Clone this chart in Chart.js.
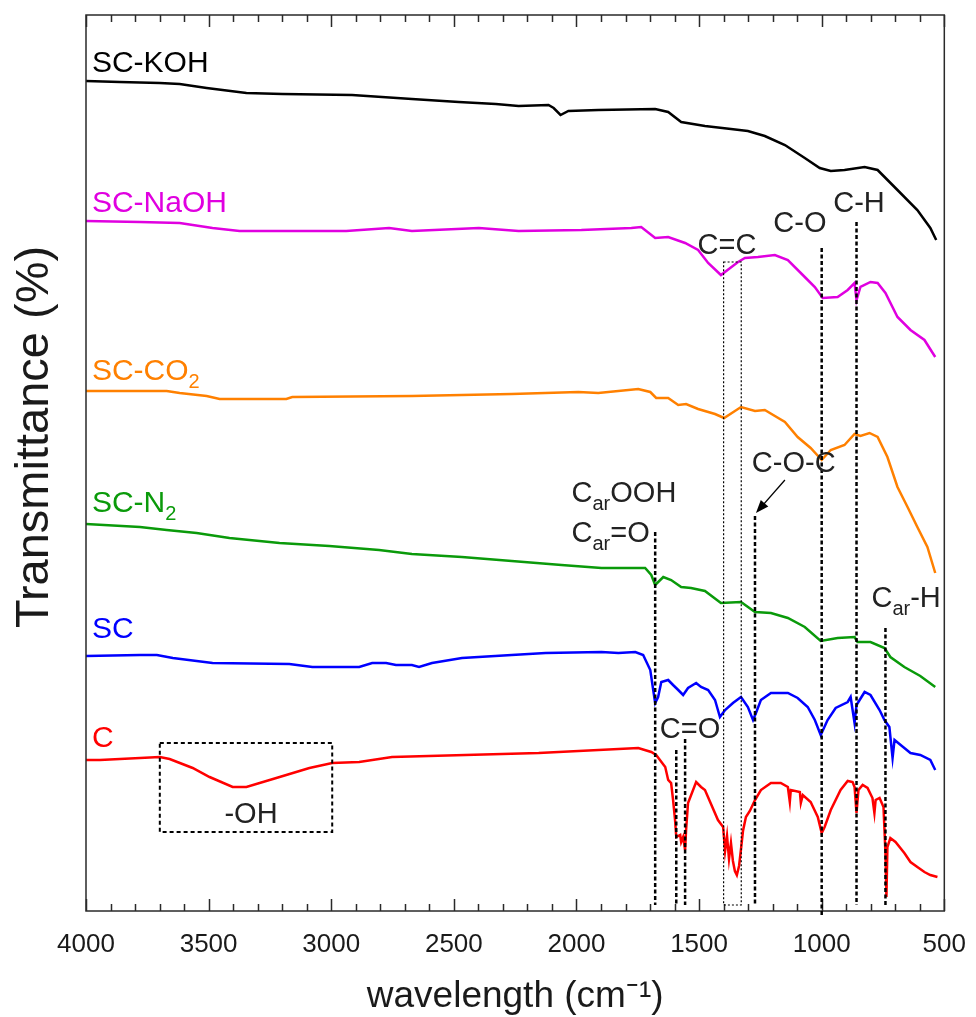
<!DOCTYPE html>
<html><head><meta charset="utf-8">
<script src="https://cdn.jsdelivr.net/npm/chart.js@4/dist/chart.umd.min.js"></script>
<style>html,body{margin:0;padding:0;background:#fff}#wrap{width:976px;height:1017px}</style>
</head><body><div id="wrap"><canvas id="c" width="976" height="1017"></canvas></div>
<script>
// ---- data (wavenumber in cm-1, transmittance in arbitrary offset units) ----
const kohWn = [4000,3862,3699,3618,3508,3346,3199,2915,2671,2480,2329,2236,2114,2093,2065,2033,1911,1679,1626,1573,1476,1370,1301,1232,1150,1069,1008,963,907,825,772,691,610,557,533];
const kohT  = [830,829,828,827,823,818,817,816,812,809,807,805,806,803,796,800,801,802,799,789,785,782,780,775,766,753,743,740,741,744,741,721,701,683,671];

const naohWn = [4000,3780,3618,3484,3374,2939,2764,2671,2398,2236,1980,1776,1736,1679,1626,1557,1504,1463,1411,1341,1313,1260,1191,1138,1069,1028,996,935,894,866,858,842,801,772,740,691,638,581,537];
const naohT  = [690,689,688,683,680,680,683,680,683,680,681,683,684,673,674,668,661,648,636,649,653,654,656,651,634,624,613,614,621,628,611,624,629,628,618,594,581,571,554];

const co2Wn = [4000,3671,3618,3508,3455,3183,3159,2671,2264,1992,1911,1748,1699,1675,1626,1585,1553,1504,1435,1398,1329,1272,1232,1150,1098,1045,1000,963,907,866,842,805,772,732,691,650,610,569,537];
const co2T  = [520,520,518,515,512,512,514,515,517,519,518,522,519,513,513,506,507,502,497,493,504,500,501,489,474,463,451,461,466,477,475,478,474,454,424,404,384,364,338];

const n2Wn = [4000,3780,3671,3549,3415,3211,3008,2805,2671,2467,2264,2061,1898,1720,1695,1679,1646,1614,1573,1533,1476,1411,1329,1272,1207,1138,1069,1004,935,866,854,801,744,720,663,598,537];
const n2T  = [387,384,381,378,373,368,365,361,357,354,350,346,343,343,336,326,334,331,324,323,320,308,309,299,298,293,284,270,273,274,269,269,263,254,244,235,224];

const scWn = [4000,3780,3711,3646,3484,3171,3077,2886,2833,2776,2736,2671,2642,2589,2467,2264,2126,1898,1829,1760,1728,1699,1687,1679,1667,1654,1626,1606,1585,1565,1545,1512,1492,1463,1435,1415,1394,1362,1329,1301,1280,1268,1248,1207,1138,1098,1057,1028,1004,976,943,894,882,866,858,825,801,764,744,724,711,703,663,638,598,557,537];
const scT  = [255,256,256,253,248,247,244,244,248,248,246,246,244,248,253,256,258,259,258,259,256,241,221,208,214,229,231,226,221,216,223,228,224,221,211,194,201,208,214,204,191,198,211,218,218,213,204,191,176,191,203,209,214,188,206,219,216,201,191,184,153,171,163,158,156,151,141];

const cWn = [4000,3943,3699,3659,3565,3496,3402,3346,3224,3089,2996,2886,2752,2154,1748,1695,1675,1638,1626,1614,1606,1598,1593,1577,1573,1565,1557,1553,1545,1512,1492,1476,1423,1402,1394,1386,1378,1370,1362,1354,1346,1337,1329,1321,1309,1293,1272,1248,1207,1167,1138,1130,1126,1089,1085,1077,1045,1016,1000,988,963,923,894,874,866,858,850,833,813,793,785,780,764,748,740,736,732,720,699,663,638,610,581,557,528];
const cT  = [151,151,154,152,143,134,124,124,133,143,148,149,154,158,163,159,156,144,131,128,111,91,74,76,69,74,61,81,108,129,124,121,91,84,60,75,52,68,50,40,36,45,62,80,94,100,111,121,128,128,124,109,121,119,108,116,109,94,78,84,101,121,130,129,124,98,121,126,123,113,98,111,113,104,58,14,64,73,69,58,49,44,39,36,34];

const seriesNames  = ['SC-KOH','SC-NaOH','SC-CO_{2}','SC-N_{2}','SC','C'];
const seriesColors = ['#000000','#E000E0','#FF8000','#0A9A0A','#0000FF','#FF0000'];
// label anchors in data coordinates [wavenumber, transmittance]
const seriesLabelAt = [[3976,839],[3976,699],[3976,531],[3976,399],[3976,273],[3976,164]];

// annotations in data coordinates
const peakLines = [[1679,379],[1593,161],[1557,172],[1272,395],[1000,663],[858,689],[740,283]]; // [wavenumber, top]
const ccBox  = [1400,1328,649,6];   // x1,x2,yTop,yBottom (dotted)
const ohBox  = [3699,2996,168,79];  // dashed box
const cocArrow = [1150,431,1268,398]; // from -> to
const annoLabels = [
  ['C=C',1386,657,'center'],['C-O',1089,679,'center'],['C-H',848,699,'center'],
  ['C-O-C',1114,439,'center'],['C_{ar}OOH',2020,409,'left'],['C_{ar}=O',2020,369,'left'],
  ['C=O',1537,173,'center'],['C_{ar}-H',797,304,'left'],['-OH',3327,88,'center']
];

const FONT = '"Liberation Sans", Arial, Helvetica, sans-serif';
const wnSets = [kohWn,naohWn,co2Wn,n2Wn,scWn,cWn];
const tSets  = [kohT,naohT,co2T,n2T,scT,cT];

function drawRich(ctx, str, px, py, size, color, align){
  const parts=[]; const re=/_\{([^}]*)\}/g; let last=0,m;
  while((m=re.exec(str))){ if(m.index>last) parts.push({t:str.slice(last,m.index),s:false}); parts.push({t:m[1],s:true}); last=re.lastIndex; }
  if(last<str.length) parts.push({t:str.slice(last),s:false});
  const fMain=size+'px '+FONT, fSub=Math.round(size*0.68)+'px '+FONT;
  let w=0; parts.forEach(p=>{ctx.font=p.s?fSub:fMain; p.w=ctx.measureText(p.t).width; w+=p.w;});
  let cx = align==='center'? px-w/2 : (align==='right'? px-w : px);
  ctx.fillStyle=color; ctx.textBaseline='alphabetic'; ctx.textAlign='left';
  parts.forEach(p=>{ctx.font=p.s?fSub:fMain; ctx.fillText(p.t, cx, py+(p.s?size*0.28:0)); cx+=p.w;});
}

const overlay = {
  id:'overlay',
  afterDatasetsDraw(chart){
    const {ctx, chartArea:a, scales:{x,y}} = chart;
    const X=v=>x.getPixelForValue(v), Y=v=>y.getPixelForValue(v);
    ctx.save();
    // frame
    ctx.strokeStyle='#2a2a2a'; ctx.lineWidth=1.5; ctx.setLineDash([]);
    ctx.strokeRect(a.left, a.top, a.right-a.left, a.bottom-a.top);
    // inward ticks, top and bottom
    for(let v=x.min; v<=x.max; v+=100){
      const major = v%500===0, len = major?12:7, px=Math.round(X(v))+0.5;
      ctx.beginPath(); ctx.moveTo(px,a.bottom); ctx.lineTo(px,a.bottom-len);
      ctx.moveTo(px,a.top); ctx.lineTo(px,a.top+len); ctx.stroke();
    }
    // heavy dashed peak lines
    ctx.strokeStyle='#000'; ctx.lineWidth=2.5; ctx.setLineDash([4,2.5]);
    peakLines.forEach(([w,t])=>{ctx.beginPath(); ctx.moveTo(X(w),Y(t)); ctx.lineTo(X(w),Y(w===1000?-6:6)); ctx.stroke();});
    // dotted C=C box
    ctx.lineWidth=1.2; ctx.setLineDash([2,2]);
    ctx.strokeRect(X(ccBox[0]),Y(ccBox[2]),X(ccBox[1])-X(ccBox[0]),Y(ccBox[3])-Y(ccBox[2]));
    // -OH box
    ctx.lineWidth=2; ctx.setLineDash([4,3]);
    ctx.strokeRect(X(ohBox[0]),Y(ohBox[2]),X(ohBox[1])-X(ohBox[0]),Y(ohBox[3])-Y(ohBox[2]));
    // arrow
    ctx.setLineDash([]); ctx.lineWidth=1.2;
    const x1=X(cocArrow[0]),y1=Y(cocArrow[1]),x2=X(cocArrow[2]),y2=Y(cocArrow[3]);
    const ang=Math.atan2(y2-y1,x2-x1);
    ctx.beginPath(); ctx.moveTo(x1,y1); ctx.lineTo(x2-8*Math.cos(ang),y2-8*Math.sin(ang)); ctx.stroke();
    ctx.beginPath(); ctx.moveTo(x2,y2);
    ctx.lineTo(x2-13*Math.cos(ang)+5*Math.sin(ang), y2-13*Math.sin(ang)-5*Math.cos(ang));
    ctx.lineTo(x2-13*Math.cos(ang)-5*Math.sin(ang), y2-13*Math.sin(ang)+5*Math.cos(ang));
    ctx.closePath(); ctx.fillStyle='#000'; ctx.fill();
    // annotation labels
    annoLabels.forEach(([t,w,v,al])=>drawRich(ctx,t,X(w),Y(v),29,'#222',al));
    // series labels
    seriesNames.forEach((n,i)=>drawRich(ctx,n,X(seriesLabelAt[i][0]),Y(seriesLabelAt[i][1]),30,seriesColors[i],'left'));
    // y title
    ctx.save(); ctx.translate(35,(a.top+a.bottom)/2-26); ctx.rotate(-Math.PI/2);
    ctx.font='47px '+FONT; ctx.fillStyle='#1a1a1a'; ctx.textAlign='center'; ctx.textBaseline='middle';
    ctx.fillText('Transmittance (%)',0,0); ctx.restore();
    ctx.restore();
  }
};

const datasets = seriesNames.map((n,i)=>({
  label:n, data: wnSets[i].map((w,k)=>({x:w,y:tSets[i][k]})),
  borderColor: seriesColors[i], backgroundColor: seriesColors[i],
  borderWidth:2.5, pointRadius:0, tension:0, fill:false
}));

new Chart(document.getElementById('c'),{
  type:'line',
  data:{datasets},
  options:{
    responsive:false, animation:false, devicePixelRatio:1,
    layout:{padding:{top:15,right:28,left:0,bottom:0}},
    plugins:{legend:{display:false},tooltip:{enabled:false}},
    scales:{
      x:{type:'linear',reverse:true,min:500,max:4000,
         ticks:{stepSize:500,autoSkip:false,maxRotation:0,padding:10,color:'#1a1a1a',font:{family:FONT,size:26,lineHeight:1.2},
                callback:v=>String(v)},
         grid:{display:false}, border:{display:false},
         title:{display:true,text:'wavelength (cm⁻¹)',color:'#1a1a1a',font:{family:FONT,size:37,lineHeight:1},padding:{top:0,bottom:2}},
         afterFit(s){s.height=106;}},
      y:{min:0,max:896,ticks:{display:false},grid:{display:false},border:{display:false},title:{display:false},
         afterFit(s){s.width=86;}}
    }
  },
  plugins:[overlay]
});
</script></body></html>
